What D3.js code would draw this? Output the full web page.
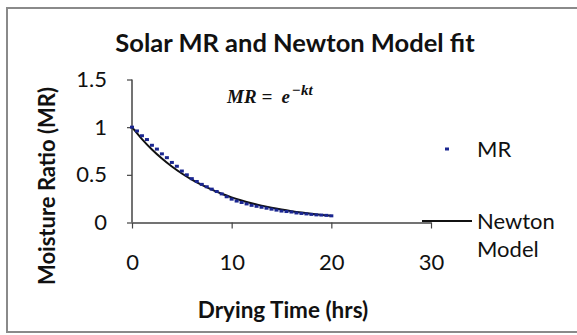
<!DOCTYPE html>
<html>
<head>
<meta charset="utf-8">
<script src="https://cdn.jsdelivr.net/npm/d3@7"></script>
<style>
  body { margin: 0; background: #fff; }
  svg { display: block; }
</style>
</head>
<body>
<div id="chart"></div>
<script>
// Measured MR, every half hour from 0 to 20 hrs
const mrTimes = d3.range(0, 20.5, 0.5);
const mrValues = [1.00, 0.96, 0.91, 0.87, 0.81, 0.77, 0.72, 0.68, 0.63, 0.59,
                  0.54, 0.50, 0.46, 0.43, 0.40, 0.375, 0.35, 0.325, 0.30, 0.27,
                  0.245, 0.225, 0.21, 0.195, 0.18, 0.17, 0.16, 0.15, 0.14, 0.13,
                  0.12, 0.115, 0.11, 0.10, 0.095, 0.09, 0.085, 0.08, 0.078, 0.075, 0.07];
// Newton model curve, read at each hour
const modelTimes = d3.range(0, 21, 1);
const modelValues = [1.00, 0.875, 0.766, 0.671, 0.587, 0.514, 0.450, 0.394, 0.345, 0.302,
                     0.264, 0.231, 0.202, 0.177, 0.155, 0.136, 0.119, 0.104, 0.091, 0.080, 0.070];
const xTicks = [0, 10, 20, 30];
const yTicks = [0, 0.5, 1, 1.5];

const width = 577, height = 335;
const svg = d3.select('#chart')
    .append('svg')
    .attr('width', width)
    .attr('height', height);

// outer frame
svg.append('rect')
    .attr('x', 7).attr('y', 8)
    .attr('width', 580).attr('height', 324)
    .attr('fill', '#fff')
    .attr('stroke', '#8a8a8a')
    .attr('stroke-width', 2);

const x = d3.scaleLinear().domain([0, 30]).range([132, 431]);
const y = d3.scaleLinear().domain([0, 1.5]).range([222.5, 79.5]);

// axes
const xAxis = svg.append('g')
    .attr('transform', `translate(0,${y(0)})`)
    .call(d3.axisBottom(x).tickValues(xTicks).tickSize(6).tickSizeOuter(0).tickPadding(26));
const yAxis = svg.append('g')
    .attr('transform', `translate(${x(0)},0)`)
    .call(d3.axisLeft(y).tickValues(yTicks).tickFormat(d => d).tickSize(5).tickSizeOuter(0).tickPadding(20));
[xAxis, yAxis].forEach(g => {
    g.select('.domain').attr('stroke', '#444').attr('stroke-width', 1.5);
    g.selectAll('.tick line').attr('stroke', '#444').attr('stroke-width', 1.2);
    g.selectAll('.tick text')
        .attr('font-family', 'Lato, sans-serif')
        .attr('font-size', '22px')
        .attr('fill', '#111');
});
yAxis.select('.domain').attr('d', `M0,${y(1.5)}V${y(0)}`);

// model line
const modelData = modelTimes.map((t, i) => ({t, v: modelValues[i]}));
svg.append('path')
    .datum(modelData)
    .attr('fill', 'none')
    .attr('stroke', '#111')
    .attr('stroke-width', 2)
    .attr('d', d3.line().curve(d3.curveMonotoneX).x(d => x(d.t)).y(d => y(d.v)));

// MR points
const mrData = mrTimes.map((t, i) => ({t, v: mrValues[i]}));
svg.selectAll('.pt')
    .data(mrData)
    .enter()
    .append('rect')
    .attr('class', 'pt')
    .attr('x', d => x(d.t) - 2)
    .attr('y', d => y(d.v) - 1.5)
    .attr('width', 4)
    .attr('height', 3)
    .attr('fill', '#1a2690');

// title
svg.append('text')
    .attr('x', 295).attr('y', 52)
    .attr('text-anchor', 'middle')
    .attr('font-family', 'Lato, sans-serif')
    .attr('font-weight', 'bold')
    .attr('font-size', '25.5px')
    .attr('fill', '#111')
    .text('Solar MR and Newton Model fit');

// equation
const eq = svg.append('text')
    .attr('x', 227).attr('y', 103)
    .attr('font-family', '"Liberation Serif", serif')
    .attr('font-weight', 'bold')
    .attr('font-style', 'italic')
    .attr('font-size', '19px')
    .attr('fill', '#111');
eq.append('tspan').text('MR');
eq.append('tspan').attr('dx', 5).text('=');
eq.append('tspan').attr('dx', 9).text('e');
eq.append('tspan').attr('dy', -8).attr('dx', 2).attr('font-size', '15px').text('\u2212kt');

// axis titles
svg.append('text')
    .attr('x', 283).attr('y', 318)
    .attr('text-anchor', 'middle')
    .attr('font-family', 'Lato, sans-serif')
    .attr('font-weight', 'bold')
    .attr('font-size', '22.5px')
    .attr('fill', '#111')
    .text('Drying Time (hrs)');
svg.append('text')
    .attr('transform', 'translate(55,186) rotate(-90)')
    .attr('text-anchor', 'middle')
    .attr('font-family', 'Lato, sans-serif')
    .attr('font-weight', 'bold')
    .attr('font-size', '22px')
    .attr('fill', '#111')
    .text('Moisture Ratio (MR)');

// legend
svg.append('rect')
    .attr('x', 445).attr('y', 147.5)
    .attr('width', 4).attr('height', 3)
    .attr('fill', '#1a2690');
svg.append('line')
    .attr('x1', 422).attr('x2', 472)
    .attr('y1', 221).attr('y2', 221)
    .attr('stroke', '#111').attr('stroke-width', 2);
const legendText = [['MR', 157], ['Newton', 229], ['Model', 257]];
legendText.forEach(([t, yy]) => {
    svg.append('text')
        .attr('x', 477).attr('y', yy)
        .attr('font-family', 'Lato, sans-serif')
        .attr('font-size', '22px')
        .attr('fill', '#111')
        .text(t);
});
</script>
</body>
</html>
